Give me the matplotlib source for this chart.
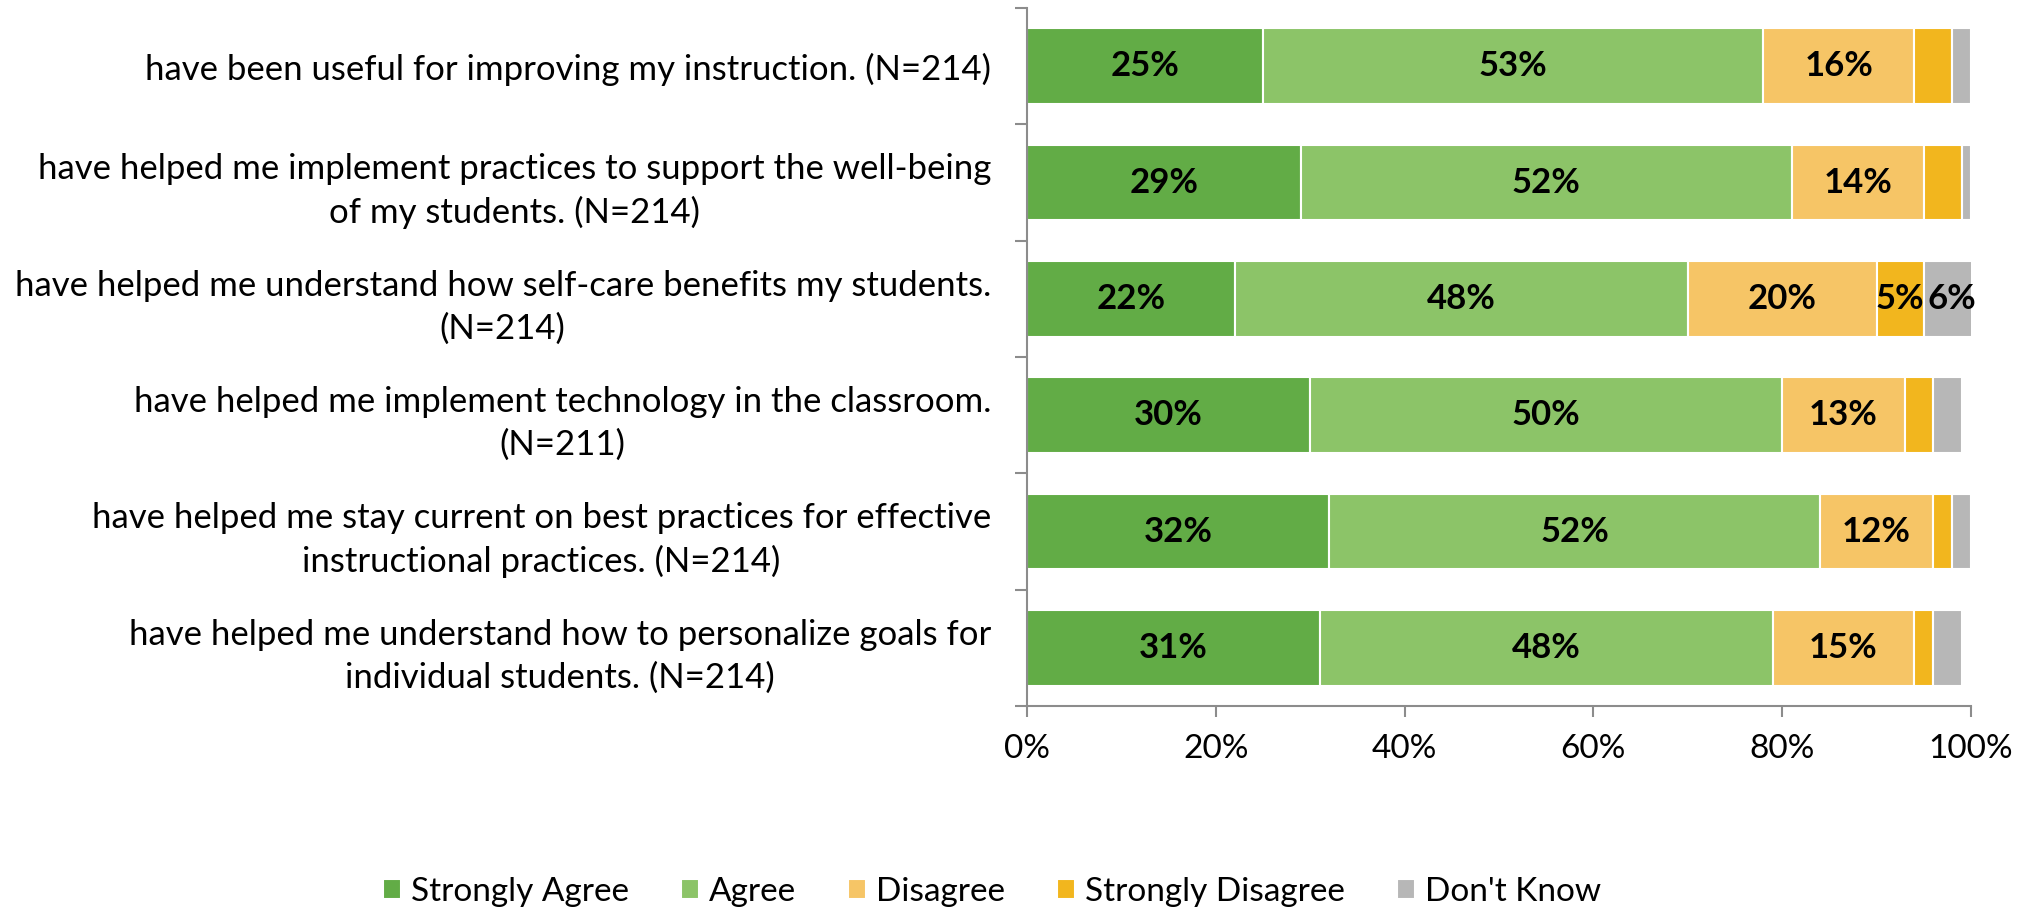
import matplotlib.pyplot as plt
import numpy as np

plt.rcParams['font.family'] = ['Lato', 'DejaVu Sans']

# survey statements (top to bottom)
statements = [
    "have been useful for improving my instruction. (N=214)",
    "have helped me implement practices to support the well-being\nof my students. (N=214)",
    "have helped me understand how self-care benefits my students.\n(N=214)",
    "have helped me implement technology in the classroom.\n(N=211)",
    "have helped me stay current on best practices for effective\ninstructional practices. (N=214)",
    "have helped me understand how to personalize goals for\nindividual students. (N=214)",
]

strongly_agree = [25, 29, 22, 30, 32, 31]
agree = [53, 52, 48, 50, 52, 48]
disagree = [16, 14, 20, 13, 12, 15]
strongly_disagree = [4, 4, 5, 3, 2, 2]
dont_know = [2, 1, 6, 3, 2, 3]

series_names = ["Strongly Agree", "Agree", "Disagree", "Strongly Disagree", "Don't Know"]
series_vals = [strongly_agree, agree, disagree, strongly_disagree, dont_know]
colors = ["#62ac46", "#8cc468", "#f6c566", "#f2b61e", "#b7b7b7"]

fig = plt.figure(figsize=(20.28, 9.1), dpi=100)
ax = fig.add_axes([1027 / 2028, 1 - 706 / 910, 944 / 2028, 698 / 910])

y = np.arange(len(statements))
left = np.zeros(len(statements))
for name, vals, col in zip(series_names, series_vals, colors):
    vals = np.array(vals, dtype=float)
    bars = ax.barh(y, vals, left=left, height=0.65, color=col, edgecolor="white",
                   linewidth=1.5, label=name)
    for b, v in zip(bars, vals):
        if v >= 5:
            ax.text(b.get_x() + b.get_width() / 2, b.get_y() + b.get_height() / 2,
                    "%d%%" % v, ha="center", va="center", fontsize=25,
                    fontweight="bold", color="black")
    left += vals

ax.set_ylim(len(statements) - 0.5, -0.5)
ax.set_xlim(0, 100)
ax.set_yticks(y)
ax.set_yticklabels(statements, fontsize=25, linespacing=1.4, ha="right",
                   multialignment="center")
ax.set_yticks(np.arange(-0.5, len(statements)), minor=True)
ax.tick_params(axis="y", which="major", length=0, pad=26)
ax.tick_params(axis="y", which="minor", length=9, width=1.5, color="#8c8c8c")
ax.set_xticks([0, 20, 40, 60, 80, 100])
ax.set_xticklabels(["0%", "20%", "40%", "60%", "80%", "100%"], fontsize=24)
ax.tick_params(axis="x", length=8, width=1.5, color="#8c8c8c", pad=12)

for s in ["top", "right"]:
    ax.spines[s].set_visible(False)
for s in ["left", "bottom"]:
    ax.spines[s].set_color("#8c8c8c")
    ax.spines[s].set_linewidth(1.5)

handles, labels = ax.get_legend_handles_labels()
fig.legend(handles, labels, loc="center", bbox_to_anchor=(992 / 2028, 1 - 892 / 910),
           ncol=5, frameon=False, fontsize=24, handlelength=0.55, handleheight=0.55,
           handletextpad=0.3, columnspacing=1.55)

fig.savefig("out.png", dpi=100)
